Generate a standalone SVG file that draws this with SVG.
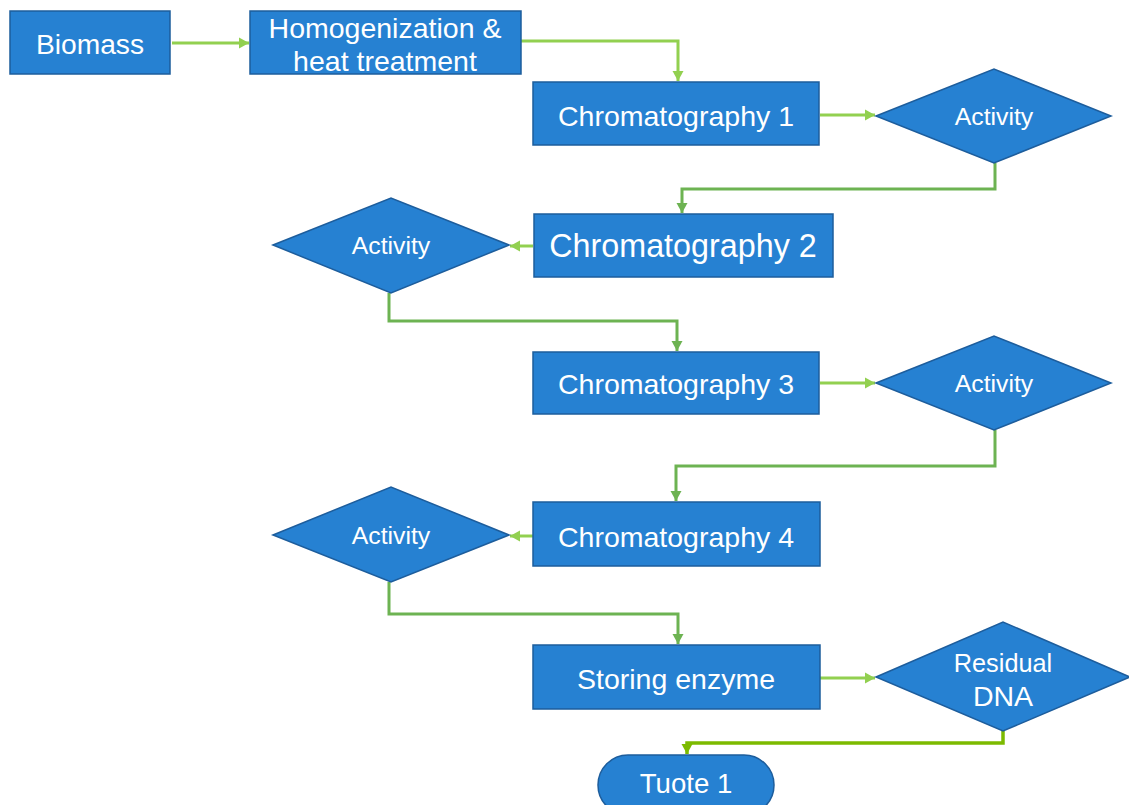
<svg xmlns="http://www.w3.org/2000/svg" width="1129" height="805" viewBox="0 0 1129 805">
<style>
.n{fill:#2681d2;stroke:#1d5d9c;stroke-width:1.5}
.t{fill:#ffffff;font-family:"Liberation Sans",Arial,sans-serif;text-anchor:middle}
.c{fill:none;stroke-width:3}
.lg{stroke:#92d050}
.dg{stroke:#6db352}
.yg{stroke:#7cba00;stroke-width:3.5}
</style>
<defs>
<marker id="aL" markerUnits="userSpaceOnUse" markerWidth="13" markerHeight="14" refX="11" refY="7" orient="auto"><path d="M1,1.5 L11,7 L1,12.5 Z" fill="#92d050"/></marker>
<marker id="aD" markerUnits="userSpaceOnUse" markerWidth="13" markerHeight="14" refX="11" refY="7" orient="auto"><path d="M1,1.5 L11,7 L1,12.5 Z" fill="#6db352"/></marker>
<marker id="aY" markerUnits="userSpaceOnUse" markerWidth="13" markerHeight="14" refX="11" refY="7" orient="auto"><path d="M1,1.5 L11,7 L1,12.5 Z" fill="#7cba00"/></marker>
</defs>
<rect width="1129" height="805" fill="#ffffff"/>
<g id="connectors">
<path class="c lg" d="M172,43 L249,43" marker-end="url(#aL)"/>
<path class="c lg" d="M521,41 L678,41 L678,81" marker-end="url(#aL)"/>
<path class="c lg" d="M820,115 L875,115" marker-end="url(#aL)"/>
<path class="c dg" d="M995,163 L995,189 L682,189 L682,213" marker-end="url(#aD)"/>
<path class="c lg" d="M533,246 L510,246" marker-end="url(#aL)"/>
<path class="c dg" d="M389,293 L389,321 L677,321 L677,351" marker-end="url(#aD)"/>
<path class="c lg" d="M820,383 L875,383" marker-end="url(#aL)"/>
<path class="c dg" d="M995,430 L995,466 L676,466 L676,501" marker-end="url(#aD)"/>
<path class="c lg" d="M533,536 L510,536" marker-end="url(#aL)"/>
<path class="c dg" d="M389,582 L389,614 L678,614 L678,644" marker-end="url(#aD)"/>
<path class="c lg" d="M820,678 L875,678" marker-end="url(#aL)"/>
<path class="c yg" d="M1003,731 L1003,743 L687,743 L687,754" marker-end="url(#aY)"/>
</g>
<g id="biomass"><rect class="n" x="10" y="11" width="160" height="63"/><text class="t" x="90" y="54" font-size="28.2">Biomass</text></g>
<g id="homogenization"><rect class="n" x="250" y="11" width="271" height="63"/><text class="t" x="385" y="38" font-size="28.5">Homogenization &amp;</text><text class="t" x="385" y="71" font-size="28.5">heat treatment</text></g>
<g id="chrom1"><rect class="n" x="533" y="82" width="286" height="63"/><text class="t" x="676" y="126" font-size="28.5">Chromatography 1</text></g>
<g id="activity1"><polygon class="n" points="876,116 994,69 1111,116 994,163"/><text class="t" x="994" y="125" font-size="24.8">Activity</text></g>
<g id="chrom2"><rect class="n" x="534" y="214" width="299" height="63"/><text class="t" x="683" y="257" font-size="32.3">Chromatography 2</text></g>
<g id="activity2"><polygon class="n" points="273,245 391,198 509,245 391,293"/><text class="t" x="391" y="254" font-size="24.8">Activity</text></g>
<g id="chrom3"><rect class="n" x="533" y="352" width="286" height="62"/><text class="t" x="676" y="394" font-size="28.5">Chromatography 3</text></g>
<g id="activity3"><polygon class="n" points="876,383 994,336 1111,383 994,430"/><text class="t" x="994" y="392" font-size="24.8">Activity</text></g>
<g id="chrom4"><rect class="n" x="533" y="502" width="287" height="64"/><text class="t" x="676" y="547" font-size="28.5">Chromatography 4</text></g>
<g id="activity4"><polygon class="n" points="273,535 391,487 509,535 391,582"/><text class="t" x="391" y="544" font-size="24.8">Activity</text></g>
<g id="storing"><rect class="n" x="533" y="645" width="287" height="64"/><text class="t" x="676" y="689" font-size="28.5">Storing enzyme</text></g>
<g id="residual"><polygon class="n" points="876,677 1003,622 1130,677 1003,731"/><text class="t" x="1003" y="672" font-size="25.3">Residual</text><text class="t" x="1003" y="706" font-size="28.5">DNA</text></g>
<g id="tuote"><rect class="n" x="598" y="755" width="176" height="60" rx="30"/><text class="t" x="686" y="793" font-size="27.6">Tuote 1</text></g>
</svg>
